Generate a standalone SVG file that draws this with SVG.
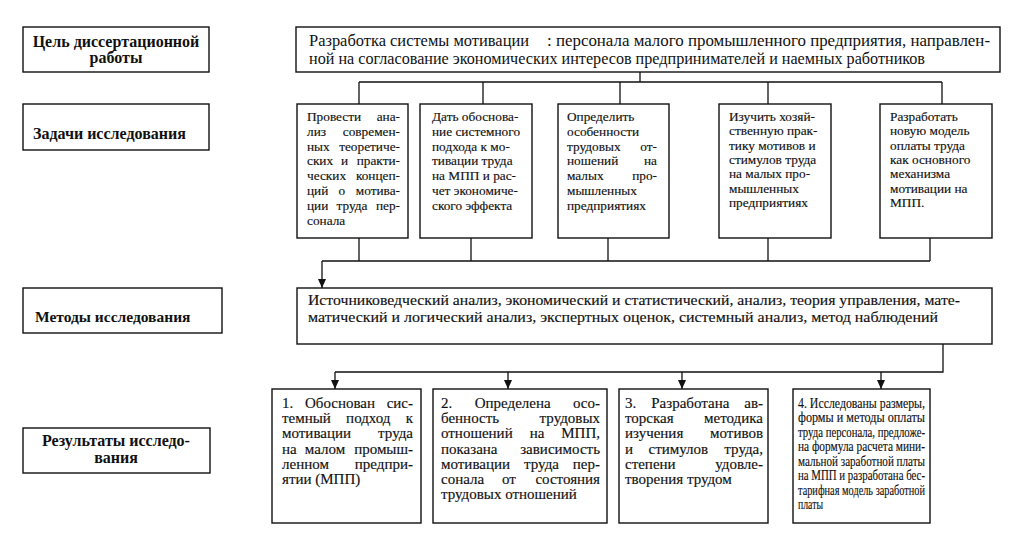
<svg xmlns="http://www.w3.org/2000/svg" width="1016" height="537" viewBox="0 0 1016 537">
<style>
.box{fill:#fff;stroke:#111;stroke-width:1.4}
.lbl{font-family:"Liberation Serif","Times New Roman",serif;font-weight:bold;font-size:16px;fill:#111}
.t{font-family:"Liberation Serif","Times New Roman",serif;font-size:13.3px;fill:#111;stroke:#111;stroke-width:0.15}
.r{font-family:"Liberation Serif","Times New Roman",serif;font-size:15px;fill:#111;stroke:#111;stroke-width:0.15}
.r4{font-family:"Liberation Serif","Times New Roman",serif;font-size:14.8px;fill:#111;stroke:#111;stroke-width:0.15}
.g{font-family:"Liberation Serif","Times New Roman",serif;font-size:16px;fill:#111}
.m{font-family:"Liberation Serif","Times New Roman",serif;font-size:15px;fill:#111;stroke:#111;stroke-width:0.15}
.e{text-anchor:end}
.mid{text-anchor:middle}
.c{fill:none;stroke:#111;stroke-width:1.3}
</style>
<defs>
<marker id="ah" markerUnits="userSpaceOnUse" markerWidth="8" markerHeight="9" refX="4" refY="9" orient="0" viewBox="0 0 8 9">
<path d="M0,0 L8,0 L4,9 z" fill="#111"/>
</marker>
</defs>
<rect x="0" y="0" width="1016" height="537" fill="#fff"/>

<g id="connectors">
<path class="c" d="M640,72 V82 M359,82 H942 M359,82 V104 M483,82 V104 M620,82 V104 M768,82 V104 M942,82 V104"/>
<path class="c" d="M359,238 V261 M471,238 V261 M608,238 V261 M768,238 V261 M930,238 V261 M322,261 H930"/>
<path class="c" d="M322,261 V288" marker-end="url(#ah)"/>
<path class="c" d="M943,344 V372 H335"/>
<path class="c" d="M335,372 V389" marker-end="url(#ah)"/>
<path class="c" d="M508,372 V389" marker-end="url(#ah)"/>
<path class="c" d="M682,372 V389" marker-end="url(#ah)"/>
<path class="c" d="M881,372 V389" marker-end="url(#ah)"/>
</g>

<g id="label-goal">
<rect class="box" x="23" y="27" width="186" height="45"/>
<text class="lbl mid" x="116" y="47">Цель диссертационной</text>
<text class="lbl mid" x="116" y="63">работы</text>
</g>
<g id="label-tasks">
<rect class="box" x="23" y="104" width="186" height="46"/>
<text class="lbl" x="33" y="139">Задачи исследования</text>
</g>
<g id="label-methods">
<rect class="box" x="23" y="288" width="199" height="45"/>
<text class="lbl" x="35" y="322" style="font-size:15.5px">Методы исследования</text>
</g>
<g id="label-results">
<rect class="box" x="23" y="428" width="187" height="45"/>
<text class="lbl mid" x="116" y="446">Результаты исследо-</text>
<text class="lbl mid" x="116" y="463">вания</text>
</g>

<g id="goal">
<rect class="box" x="296" y="27" width="704" height="45"/>
<text class="g" x="309" y="46" textLength="220" lengthAdjust="spacingAndGlyphs">Разработка системы мотивации</text>
<text class="g" x="547" y="46" textLength="443" lengthAdjust="spacingAndGlyphs">: персонала малого промышленного предприятия, направлен-</text>
<text class="g" x="309" y="64" textLength="616" lengthAdjust="spacingAndGlyphs">ной на согласование экономических интересов предпринимателей и наемных работников</text>
</g>

<g id="task1">
<rect class="box" x="297" y="104" width="111" height="134"/>
<text class="t" x="307" y="121">Провести</text><text class="t e" x="400" y="121">ана-</text>
<text class="t" x="307" y="135.8">лиз</text><text class="t e" x="400" y="135.8">современ-</text>
<text class="t" x="307" y="150.6">ных</text><text class="t e" x="400" y="150.6">теоретиче-</text>
<text class="t" x="307" y="165.4">ских</text><text class="t mid" x="344.5" y="165.4">и</text><text class="t e" x="400" y="165.4">практи-</text>
<text class="t" x="307" y="180.2">ческих</text><text class="t e" x="400" y="180.2">концеп-</text>
<text class="t" x="307" y="195">ций</text><text class="t mid" x="341.8" y="195">о</text><text class="t e" x="400" y="195">мотива-</text>
<text class="t" x="307" y="209.8">ции</text><text class="t mid" x="352" y="209.8">труда</text><text class="t e" x="400" y="209.8">пер-</text>
<text class="t" x="307" y="224.6">сонала</text>
</g>
<g id="task2">
<rect class="box" x="420" y="104" width="112" height="134"/>
<text class="t" x="432" y="121">Дать обоснова-</text>
<text class="t" x="432" y="135.8">ние системного</text>
<text class="t" x="432" y="150.6">подхода к мо-</text>
<text class="t" x="432" y="165.4">тивации труда</text>
<text class="t" x="432" y="180.2">на МПП и рас-</text>
<text class="t" x="432" y="195">чет экономиче-</text>
<text class="t" x="432" y="209.8">ского эффекта</text>
</g>
<g id="task3">
<rect class="box" x="558" y="104" width="111" height="134"/>
<text class="t" x="567" y="121">Определить</text>
<text class="t" x="567" y="135.8">особенности</text>
<text class="t" x="567" y="150.6">трудовых</text><text class="t e" x="657" y="150.6">от-</text>
<text class="t" x="567" y="165.4">ношений</text><text class="t e" x="657" y="165.4">на</text>
<text class="t" x="567" y="180.2">малых</text><text class="t e" x="657" y="180.2">про-</text>
<text class="t" x="567" y="195">мышленных</text>
<text class="t" x="567" y="209.8">предприятиях</text>
</g>
<g id="task4">
<rect class="box" x="719" y="104" width="112" height="134"/>
<text class="t" x="729" y="121">Изучить хозяй-</text>
<text class="t" x="729" y="135.3">ственную прак-</text>
<text class="t" x="729" y="149.6">тику мотивов и</text>
<text class="t" x="729" y="163.9">стимулов труда</text>
<text class="t" x="729" y="178.2">на малых про-</text>
<text class="t" x="729" y="192.5">мышленных</text>
<text class="t" x="729" y="206.8">предприятиях</text>
</g>
<g id="task5">
<rect class="box" x="880" y="104" width="112" height="134"/>
<text class="t" x="890" y="121">Разработать</text>
<text class="t" x="890" y="135.3">новую модель</text>
<text class="t" x="890" y="149.6">оплаты труда</text>
<text class="t" x="890" y="163.9">как основного</text>
<text class="t" x="890" y="178.2">механизма</text>
<text class="t" x="890" y="192.5">мотивации на</text>
<text class="t" x="890" y="206.8">МПП.</text>
</g>

<g id="methods">
<rect class="box" x="297" y="288" width="695" height="56"/>
<text class="m" x="308" y="305" textLength="652" lengthAdjust="spacingAndGlyphs">Источниковедческий анализ, экономический и статистический, анализ, теория управления, мате-</text>
<text class="m" x="308" y="322" textLength="630" lengthAdjust="spacingAndGlyphs">матический и логический анализ, экспертных оценок, системный анализ, метод наблюдений</text>
</g>

<g id="result1">
<rect class="box" x="272" y="389" width="149" height="134"/>
<text class="r" x="282" y="408">1.</text><text class="r mid" x="340" y="408">Обоснован</text><text class="r e" x="413" y="408">сис-</text>
<text class="r" x="282" y="423.2">темный</text><text class="r mid" x="368.3" y="423.2">подход</text><text class="r e" x="413" y="423.2">к</text>
<text class="r" x="282" y="438.4">мотивации</text><text class="r e" x="413" y="438.4">труда</text>
<text class="r" x="282" y="453.6">на</text><text class="r mid" x="325" y="453.6">малом</text><text class="r e" x="413" y="453.6">промыш-</text>
<text class="r" x="282" y="468.8">ленном</text><text class="r e" x="413" y="468.8">предпри-</text>
<text class="r" x="282" y="484">ятии (МПП)</text>
</g>
<g id="result2">
<rect class="box" x="433" y="389" width="174" height="134"/>
<text class="r" x="441" y="408">2.</text><text class="r mid" x="512.7" y="408">Определена</text><text class="r e" x="600" y="408">осо-</text>
<text class="r" x="441" y="423.2">бенность</text><text class="r e" x="600" y="423.2">трудовых</text>
<text class="r" x="441" y="438.4">отношений</text><text class="r mid" x="537" y="438.4">на</text><text class="r e" x="600" y="438.4">МПП,</text>
<text class="r" x="441" y="453.6">показана</text><text class="r e" x="600" y="453.6">зависимость</text>
<text class="r" x="441" y="468.8">мотивации</text><text class="r mid" x="541.5" y="468.8">труда</text><text class="r e" x="600" y="468.8">пер-</text>
<text class="r" x="441" y="484">сонала</text><text class="r mid" x="509" y="484">от</text><text class="r e" x="600" y="484">состояния</text>
<text class="r" x="441" y="499.2">трудовых отношений</text>
</g>
<g id="result3">
<rect class="box" x="619" y="389" width="149" height="134"/>
<text class="r" x="625" y="408">3.</text><text class="r mid" x="690.3" y="408">Разработана</text><text class="r e" x="763" y="408">ав-</text>
<text class="r" x="625" y="423.2">торская</text><text class="r e" x="763" y="423.2">методика</text>
<text class="r" x="625" y="438.4">изучения</text><text class="r e" x="763" y="438.4">мотивов</text>
<text class="r" x="625" y="453.6">и</text><text class="r mid" x="678.3" y="453.6">стимулов</text><text class="r e" x="763" y="453.6">труда,</text>
<text class="r" x="625" y="468.8">степени</text><text class="r e" x="763" y="468.8">удовле-</text>
<text class="r" x="625" y="484">творения трудом</text>
</g>
<g id="result4">
<rect class="box" x="793" y="389" width="137" height="134"/>
<text class="r4" x="798" y="407.5" textLength="127" lengthAdjust="spacingAndGlyphs">4. Исследованы размеры,</text>
<text class="r4" x="798" y="422" textLength="127" lengthAdjust="spacingAndGlyphs">формы и методы оплаты</text>
<text class="r4" x="798" y="436.5" textLength="127" lengthAdjust="spacingAndGlyphs">труда персонала, предложе-</text>
<text class="r4" x="798" y="451" textLength="127" lengthAdjust="spacingAndGlyphs">на формула расчета мини-</text>
<text class="r4" x="798" y="465.5" textLength="127" lengthAdjust="spacingAndGlyphs">мальной заработной платы</text>
<text class="r4" x="798" y="480" textLength="127" lengthAdjust="spacingAndGlyphs">на МПП и разработана бес-</text>
<text class="r4" x="798" y="494.5" textLength="127" lengthAdjust="spacingAndGlyphs">тарифная модель заработной</text>
<text class="r4" x="798" y="509" textLength="25" lengthAdjust="spacingAndGlyphs">платы</text>
</g>
</svg>
